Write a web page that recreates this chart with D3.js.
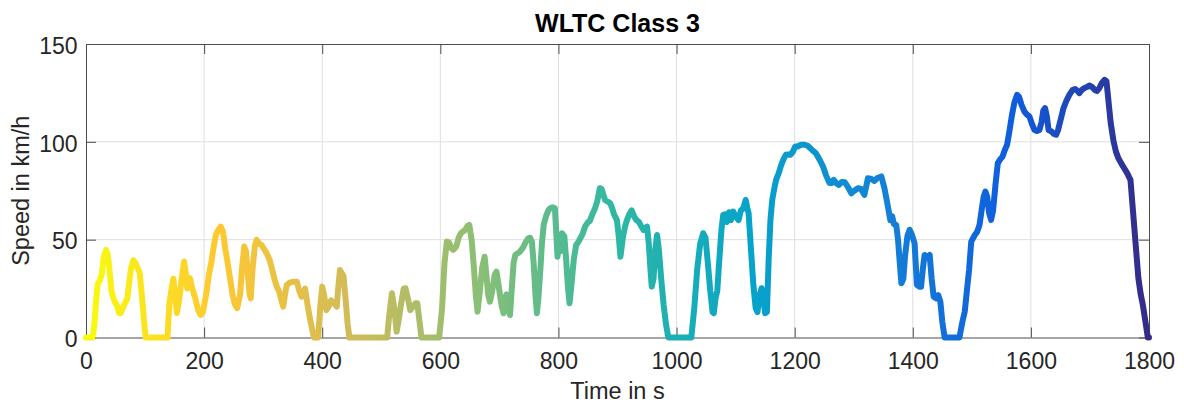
<!DOCTYPE html>
<html>
<head>
<meta charset="utf-8">
<title>WLTC Class 3</title>
<script src="https://cdn.jsdelivr.net/npm/d3@7"></script>
<style>
  html, body { margin: 0; padding: 0; background: #fff; }
  svg { display: block; }
  text { font-family: "Liberation Sans", Arial, Helvetica, sans-serif; }
</style>
</head>
<body>
<svg id="chart" width="1184" height="403"></svg>
<script>
// WLTC Class 3 speed trace: time stamps (s) and vehicle speed (km/h)
const timeSec = [
  0, 11, 14, 18, 20, 24, 27, 30, 34, 37, 40, 43, 46, 50, 53, 56, 59, 62, 66, 70,
  73, 76, 80, 84, 88, 91, 95, 99, 101, 138, 141, 145, 148, 151, 154, 158, 162, 166, 169, 171.5,
  176, 179, 185, 190, 194, 198, 204, 208, 212, 216, 220, 224, 228, 232, 236, 240, 244, 248, 252, 256,
  261, 264, 268, 271, 274, 277, 279, 282, 286, 289, 293, 297, 302, 306, 311, 315, 319, 323, 327, 330,
  334, 337, 340, 345, 350, 357, 361, 365, 368, 371, 375, 379, 382, 386, 393, 397, 400, 403, 407, 411,
  415, 420, 424.6, 427, 430, 433, 436, 440, 443, 446, 510, 513, 518, 522, 526, 529, 534, 538, 541, 545,
  549, 553, 558, 561, 564, 568, 598, 603, 607, 611, 615, 619, 622, 627, 631, 635, 642, 646, 649, 653,
  657, 660, 663, 667, 671, 675, 678, 681, 684, 688, 692, 695, 698, 701, 704, 707, 709, 712, 715, 718,
  721, 724, 727, 731, 735, 740, 745, 749, 752, 755, 758, 761, 763.5, 766, 769, 772, 775, 779, 783, 786,
  790, 794, 796, 798.4, 801, 803, 806, 810, 813, 816, 818.8, 822, 826, 830, 834, 837, 841, 845, 850, 853,
  857, 862, 866, 870, 873, 876, 879, 883, 887.7, 891, 894, 896, 899, 902, 905, 909, 913, 916, 920, 924,
  928, 932, 936, 940, 944, 950, 953, 956, 958, 961, 964, 967, 970, 974, 978, 982, 986, 1025, 1030, 1035,
  1040, 1045, 1049, 1053, 1057, 1061, 1063, 1066, 1069, 1072, 1076, 1079, 1082, 1085, 1089, 1092, 1096, 1100, 1105, 1109,
  1113, 1117, 1120, 1122, 1126, 1130, 1134, 1137, 1141, 1144, 1147, 1150, 1153, 1156, 1159, 1162, 1166, 1169, 1173, 1177,
  1181, 1185, 1189, 1193, 1197, 1201, 1205, 1211, 1217, 1222, 1229, 1236, 1242, 1248, 1253, 1259, 1263, 1266, 1270, 1275,
  1280, 1285, 1290, 1296, 1301, 1307, 1312, 1318, 1321, 1324, 1330, 1335, 1340, 1346.8, 1352, 1356, 1362, 1365, 1368, 1372,
  1375, 1378, 1380.7, 1384, 1387, 1391, 1394.7, 1398, 1403, 1407, 1411, 1414, 1417, 1420, 1424, 1428.6, 1432, 1435.3, 1440, 1443,
  1446.7, 1450, 1454, 1479, 1484, 1488, 1492, 1495.3, 1499, 1505, 1509, 1513, 1517, 1520, 1523, 1526, 1529, 1532.6, 1536, 1540,
  1544, 1548, 1552, 1556, 1559.7, 1564, 1568, 1572, 1576.7, 1580, 1584, 1589, 1593, 1597.5, 1602, 1606, 1610, 1614.4, 1618, 1621,
  1624, 1627, 1630, 1635, 1639, 1642.7, 1646, 1651, 1655, 1659.6, 1665, 1670.9, 1675, 1679, 1682, 1686, 1690.7, 1695, 1699, 1704,
  1708, 1712, 1716, 1720, 1724.6, 1728, 1731, 1735, 1740, 1744, 1748, 1753, 1758, 1763, 1768.6, 1772, 1776.6, 1782, 1786, 1789.6,
  1794, 1798, 1800
];
const speedKmh = [
  0, 0, 6, 22, 27.5, 29.5, 33, 41, 44.8, 42, 34, 24, 20.5, 17.5, 16, 12.5, 12.5, 15, 17.5, 20,
  28, 35, 39.5, 38, 35, 33, 20, 6, 0, 0, 17, 25, 30, 20, 12.5, 20, 30, 38.8, 33, 25,
  30.3, 26, 20, 14, 11.5, 13, 23, 32, 38, 46, 52.5, 55, 56.7, 54, 45, 38, 30, 22, 17, 15,
  22, 35, 46.5, 44, 32, 22, 20, 35, 47, 49.9, 48, 47.3, 45, 43, 39.6, 35, 30, 26, 23.5, 20,
  15.8, 22, 26.9, 28, 28.5, 28.5, 24, 20.9, 23, 25, 17, 10, 5.5, 0, 0, 17, 26, 22, 14, 16,
  19, 17.5, 15.8, 25, 34.5, 33, 31.4, 18, 7, 0, 0, 10, 22.6, 15, 3, 8, 18, 25, 25.2, 20,
  14, 15.5, 17.5, 17.5, 10, 0, 0, 15, 38, 49, 48.5, 45.5, 44.8, 46.5, 51, 53.3, 55, 57, 57.5, 50,
  35, 22, 13.2, 24, 36, 41.3, 32, 22, 18.3, 24, 32, 33.7, 28, 21.7, 16, 12.4, 20, 22, 15, 11.5,
  25, 38, 42.2, 43, 43.9, 46, 49, 50.7, 51, 49, 38, 22, 12.4, 20, 33, 48, 57.5, 62, 65, 66,
  66.5, 66, 55, 41.3, 48, 44, 53.3, 51.6, 40, 26, 17.5, 27, 40, 47.3, 49, 50.7, 53, 56.7, 59, 59.5,
  62.7, 66, 70, 76.3, 76, 73, 70.3, 69.5, 68.6, 66, 63, 61.8, 60, 52, 41.3, 51, 57, 60, 63, 65,
  62, 60, 59.2, 57, 55, 56.7, 48, 34, 26, 30, 45, 52.4, 45, 30, 17, 7, 0, 0, 15, 35,
  48, 53.3, 51, 38, 24, 13, 12.4, 20, 24, 38, 55, 62.7, 63, 59, 64, 60, 64.3, 62, 60, 65,
  66, 70.3, 66, 63.5, 45, 27, 15, 13, 22, 25.2, 20, 12.4, 13, 40, 60, 70.3, 77, 81, 84, 88,
  91, 93.4, 93.5, 93.4, 95, 97.6, 97.6, 98.5, 98.5, 98, 96, 94.2, 91, 87.4, 83, 78.9, 79, 80.6, 79, 78,
  79.5, 79.3, 77, 73.7, 75, 76.3, 76, 72.9, 77, 81.4, 81, 80, 81.5, 82.3, 76.3, 70, 60, 62, 58, 57.5,
  50, 38, 27.7, 30, 42, 52, 55, 53, 48.2, 26.9, 26, 26, 35, 42.2, 41, 42.2, 30, 20.9, 20, 21.7,
  18.3, 8, 0, 0, 8, 13.2, 25, 34.5, 49, 52.4, 54, 57.5, 66, 72, 74.6, 72, 64, 60.1, 65, 78,
  89.1, 91, 92.5, 96, 98.5, 106, 113.8, 120, 124, 123, 119, 115.5, 114, 112.9, 109, 106.1, 105.5, 106.1, 110, 116,
  117.2, 113, 106, 105.3, 104, 103.6, 106, 112, 117, 120.6, 124, 126.6, 127, 126, 124.9, 126.5, 127.5, 128, 128.8, 128,
  126.5, 126, 127.5, 130, 131.7, 131, 122, 110, 100.2, 95, 91.7, 89, 86.5, 84, 80.6, 68, 50.7, 30.3, 22, 16.6,
  8, 0, 0
];

// Axis ticks
const xTicks = [0, 200, 400, 600, 800, 1000, 1200, 1400, 1600, 1800];
const yTicks = [0, 50, 100, 150];

// Parula colour ramp (low to high); the trace runs from the high end to the low end
const parulaStops = ["#352a87", "#0f5cdd", "#1481d6", "#06a4ca", "#2eb7a4", "#87bf77", "#d1bb59", "#fec832", "#f9fb0e"];

const svg = d3.select("#chart");
const plot = { left: 86, right: 1149, top: 44, bottom: 337.5 };

const x = d3.scaleLinear().domain([0, 1800]).range([plot.left, plot.right]);
const y = d3.scaleLinear().domain([0, 150]).range([plot.bottom, plot.top]);

const axisColor = "#4d4d4d";
const labelColor = "#262626";
const plain = d3.format("d");

// Grid
const grid = svg.append("g").attr("class", "grid");
grid.selectAll("line.gx").data(xTicks.slice(1, -1)).join("line")
  .attr("x1", d => x(d)).attr("x2", d => x(d))
  .attr("y1", plot.top).attr("y2", plot.bottom)
  .attr("stroke", "#dfdfdf").attr("stroke-width", 1);
grid.selectAll("line.gy").data(yTicks.slice(1, -1)).join("line")
  .attr("x1", plot.left).attr("x2", plot.right)
  .attr("y1", d => y(d)).attr("y2", d => y(d))
  .attr("stroke", "#dfdfdf").attr("stroke-width", 1);

// Axes: ticks point inward on all four sides of the box
function styleAxis(g) {
  g.select(".domain").attr("stroke", axisColor).attr("stroke-width", 1);
  g.selectAll(".tick line").attr("stroke", axisColor).attr("stroke-width", 1);
  g.selectAll(".tick text").attr("fill", labelColor)
    .style("font-family", '"Liberation Sans", Arial, Helvetica, sans-serif')
    .style("font-size", "23px");
}

svg.append("g").attr("transform", `translate(0,${plot.bottom})`)
  .call(d3.axisBottom(x).tickValues(xTicks).tickFormat(plain).tickSize(-10).tickSizeOuter(0).tickPadding(15.5))
  .call(styleAxis);

svg.append("g").attr("transform", `translate(0,${plot.top})`)
  .call(d3.axisTop(x).tickValues(xTicks).tickSize(-10).tickSizeOuter(0).tickFormat(""))
  .call(styleAxis);

svg.append("g").attr("transform", `translate(${plot.left},0)`)
  .call(d3.axisLeft(y).tickValues(yTicks).tickFormat(plain).tickSize(-10).tickSizeOuter(0).tickPadding(8.5))
  .call(styleAxis)
  .call(g => g.selectAll(".tick text").attr("dy", "0.4em"));

svg.append("g").attr("transform", `translate(${plot.right},0)`)
  .call(d3.axisRight(y).tickValues(yTicks).tickSize(-10).tickSizeOuter(0).tickFormat(""))
  .call(styleAxis);

// Horizontal colour gradient along time
const defs = svg.append("defs");
const grad = defs.append("linearGradient")
  .attr("id", "timeGradient")
  .attr("gradientUnits", "userSpaceOnUse")
  .attr("x1", x(0)).attr("x2", x(1800))
  .attr("y1", 0).attr("y2", 0);
const n = parulaStops.length;
grad.selectAll("stop").data(parulaStops.slice().reverse()).join("stop")
  .attr("offset", (d, i) => `${(i / (n - 1)) * 100}%`)
  .attr("stop-color", d => d);

// Speed trace
const points = timeSec.map((t, i) => [t, speedKmh[i]]);
const line = d3.line().x(d => x(d[0])).y(d => y(d[1]));
svg.append("path")
  .datum(points)
  .attr("d", line)
  .attr("fill", "none")
  .attr("stroke", "url(#timeGradient)")
  .attr("stroke-width", 6)
  .attr("stroke-linejoin", "round")
  .attr("stroke-linecap", "round");

// Title and axis labels
svg.append("text")
  .attr("x", (plot.left + plot.right) / 2)
  .attr("y", 31.5)
  .attr("text-anchor", "middle")
  .attr("font-size", 25)
  .attr("font-weight", "bold")
  .attr("fill", "#000")
  .text("WLTC Class 3");

svg.append("text")
  .attr("x", (plot.left + plot.right) / 2)
  .attr("y", 399)
  .attr("text-anchor", "middle")
  .attr("font-size", 23.5)
  .attr("fill", labelColor)
  .text("Time in s");

svg.append("text")
  .attr("transform", `translate(29,${(plot.top + plot.bottom) / 2}) rotate(-90)`)
  .attr("text-anchor", "middle")
  .attr("font-size", 23.5)
  .attr("fill", labelColor)
  .text("Speed in km/h");
</script>
</body>
</html>
